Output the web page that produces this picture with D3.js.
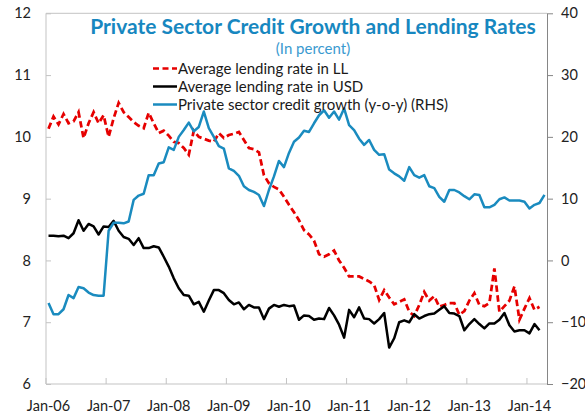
<!DOCTYPE html>
<html lang="en">
	<head>
		<meta charset="utf-8">
		<title>Private Sector Credit Growth and Lending Rates</title>
		<script type="text/javascript" src="https://cdn.jsdelivr.net/npm/d3@7"></script>
		<style type="text/css">
			body { margin: 0; background: #fff; }
			text { font-family: Lato, "Open Sans", sans-serif; }
		</style>
	</head>
	<body>
		<script type="text/javascript">
			//Monthly data, Jan-06 to Apr-14
			var tickLabels = ["Jan-06", "Jan-07", "Jan-08", "Jan-09", "Jan-10", "Jan-11", "Jan-12", "Jan-13", "Jan-14"];

			//Average lending rate in LL (left axis)
			var rateLL = [
				10.13, 10.33, 10.20, 10.37, 10.22, 10.25, 10.40, 9.98, 10.22, 10.40,
				10.22, 10.35, 10.00, 10.30, 10.55, 10.40, 10.32, 10.24, 10.18, 10.14,
				10.39, 10.22, 10.06, 10.10, 10.02, 9.92, 9.90, 9.82, 9.71, 10.10,
				10.00, 9.97, 9.94, 9.92, 10.06, 9.98, 10.03, 10.05, 10.08, 9.95,
				9.82, 9.80, 9.75, 9.38, 9.25, 9.19, 9.15, 9.03, 8.90, 8.78,
				8.65, 8.49, 8.42, 8.32, 8.10, 8.06, 8.10, 8.16, 8.00, 7.88,
				7.74, 7.74, 7.74, 7.70, 7.66, 7.60, 7.36, 7.52, 7.40, 7.29,
				7.33, 7.37, 7.17, 7.10, 7.28, 7.49, 7.35, 7.42, 7.25, 7.28,
				7.31, 7.31, 7.12, 7.18, 7.35, 7.47, 7.28, 7.26, 7.31, 7.87,
				7.17, 7.26, 7.35, 7.58, 7.04, 7.22, 7.39, 7.20, 7.25
			];

			//Average lending rate in USD (left axis)
			var rateUSD = [
				8.40, 8.40, 8.39, 8.40, 8.36, 8.44, 8.65, 8.48, 8.59, 8.55,
				8.42, 8.55, 8.54, 8.64, 8.48, 8.38, 8.35, 8.25, 8.36, 8.20,
				8.20, 8.23, 8.21, 8.06, 7.90, 7.71, 7.55, 7.44, 7.43, 7.29,
				7.33, 7.17, 7.35, 7.52, 7.52, 7.47, 7.36, 7.29, 7.32, 7.21,
				7.28, 7.24, 7.24, 7.05, 7.22, 7.28, 7.25, 7.28, 7.26, 7.27,
				7.04, 7.11, 7.10, 7.04, 7.06, 7.05, 7.23, 7.11, 6.96, 6.75,
				7.20, 7.08, 7.24, 7.06, 7.05, 6.98, 7.05, 7.15, 6.59, 6.74,
				7.00, 7.03, 7.00, 7.13, 7.06, 7.10, 7.13, 7.14, 7.20, 7.26,
				7.15, 7.14, 7.10, 6.87, 6.97, 7.05, 6.97, 6.90, 6.98, 6.98,
				7.04, 7.15, 6.95, 6.85, 6.87, 6.87, 6.82, 6.97, 6.87
			];

			//Private sector credit growth, y-o-y (right axis)
			var creditGrowth = [
				-6.9, -8.7, -8.7, -7.9, -5.6, -6.1, -4.3, -4.5, -5.2, -5.6,
				-5.7, -5.7, 4.8, 6.1, 6.1, 6.0, 6.3, 9.8, 10.5, 10.8,
				13.8, 13.8, 15.7, 15.9, 18.3, 17.9, 20.0, 21.1, 22.3, 20.9,
				21.6, 24.1, 21.4, 20.0, 18.5, 18.1, 14.9, 14.5, 13.7, 12.0,
				11.4, 11.1, 10.6, 8.8, 11.4, 13.6, 16.1, 15.1, 17.4, 19.2,
				19.9, 21.0, 20.8, 22.2, 23.5, 24.3, 23.1, 24.1, 22.8, 24.6,
				21.9, 21.1, 19.7, 18.7, 19.5, 17.9, 17.1, 17.2, 14.7, 14.1,
				13.6, 12.9, 15.1, 13.8, 13.4, 13.8, 12.0, 11.7, 10.3, 9.5,
				11.4, 11.4, 11.0, 10.4, 9.9, 10.7, 10.6, 8.6, 8.6, 9.0,
				9.9, 10.2, 9.7, 9.7, 9.7, 9.5, 8.4, 9.0, 9.3, 10.6
			];

			//Width and height
			var w = 585;
			var h = 414;
			var plotLeft = 46, plotRight = 547, plotTop = 13.3, plotBottom = 384;

			//Categories: one per month
			var fmt = d3.timeFormat("%b-%y");
			var months = d3.timeMonth.range(new Date(2006, 0, 1), new Date(2014, 4, 1)).map(fmt);

			//Scales
			var xScale = d3.scaleBand()
							.domain(months)
							.range([plotLeft, plotRight]);
			var yLeft = d3.scaleLinear()
							.domain([6, 12])
							.range([plotBottom, plotTop]);
			var yRight = d3.scaleLinear()
							.domain([-20, 40])
							.range([plotBottom, plotTop]);

			var svg = d3.select("body")
						.append("svg")
						.attr("width", w)
						.attr("height", h);

			//Plot border (light grey)
			svg.append("path")
				.attr("d", "M" + plotRight + "," + plotTop + "H" + plotLeft + "V" + plotBottom + "H" + plotRight)
				.attr("fill", "none")
				.attr("stroke", "#c3c3c3")
				.attr("stroke-width", 1);

			//Left axis, ticks pointing inward
			var yAxisL = svg.append("g")
				.attr("transform", "translate(" + plotLeft + ",0)")
				.call(d3.axisLeft(yLeft).ticks(6).tickSize(-5).tickPadding(15));
			yAxisL.select(".domain").remove();
			yAxisL.selectAll("line").attr("stroke", "#c3c3c3");

			//Right axis
			var yAxisR = svg.append("g")
				.attr("transform", "translate(" + plotRight + ",0)")
				.call(d3.axisRight(yRight).ticks(6).tickSize(6).tickPadding(8).tickSizeOuter(0));
			yAxisR.selectAll("path, line").attr("stroke", "#868686");

			//Bottom axis: labels centred on January, ticks on category edges
			var xAxis = svg.append("g")
				.attr("transform", "translate(0," + plotBottom + ")")
				.call(d3.axisBottom(xScale)
					.tickValues(tickLabels)
					.tickSize(-6)
					.tickPadding(17));
			xAxis.select(".domain").remove();
			xAxis.selectAll("line")
				.attr("x1", -xScale.bandwidth() / 2)
				.attr("x2", -xScale.bandwidth() / 2)
				.attr("stroke", "#c3c3c3");

			svg.selectAll(".tick text")
				.attr("font-family", "Lato, sans-serif")
				.attr("font-size", "14.5px")
				.attr("fill", "#222");

			//Line generators
			var px = function(d, i) { return xScale(months[i]) + xScale.bandwidth() / 2; };
			var lineL = d3.line().x(px).y(function(d) { return yLeft(d); });
			var lineR = d3.line().x(px).y(function(d) { return yRight(d); });

			svg.append("path")
				.datum(rateLL)
				.attr("d", lineL)
				.attr("fill", "none")
				.attr("stroke", "#e60000")
				.attr("stroke-width", 2.75)
				.attr("stroke-dasharray", "6.5,3.5");

			svg.append("path")
				.datum(rateUSD)
				.attr("d", lineL)
				.attr("fill", "none")
				.attr("stroke", "#000")
				.attr("stroke-width", 2.5)
				.attr("stroke-linejoin", "round");

			svg.append("path")
				.datum(creditGrowth)
				.attr("d", lineR)
				.attr("fill", "none")
				.attr("stroke", "#1a8bbf")
				.attr("stroke-width", 2.5)
				.attr("stroke-linejoin", "round");

			//Title
			svg.append("text")
				.attr("x", 313)
				.attr("y", 34)
				.attr("text-anchor", "middle")
				.attr("font-weight", "bold")
				.attr("font-size", "21px")
				.attr("fill", "#1787c0")
				.text("Private Sector Credit Growth and Lending Rates");

			svg.append("text")
				.attr("x", 313)
				.attr("y", 54)
				.attr("text-anchor", "middle")
				.attr("font-size", "15px")
				.attr("fill", "#3a9ad0")
				.text("(In percent)");

			//Legend
			var legendItems = [
				{ name: "Average lending rate in LL", color: "#e60000", dash: "6,3.5" },
				{ name: "Average lending rate in USD", color: "#000", dash: null },
				{ name: "Private sector credit growth (y-o-y) (RHS)", color: "#1a8bbf", dash: null }
			];
			var legend = svg.append("g")
				.selectAll("g")
				.data(legendItems)
				.enter()
				.append("g")
				.attr("transform", function(d, i) { return "translate(153," + (68.5 + i * 18) + ")"; });
			legend.append("line")
				.attr("x1", 0)
				.attr("x2", 24)
				.attr("stroke", function(d) { return d.color; })
				.attr("stroke-width", 2.5)
				.attr("stroke-dasharray", function(d) { return d.dash; });
			legend.append("text")
				.attr("x", 25)
				.attr("y", 5.5)
				.attr("font-size", "15px")
				.attr("fill", "#1a1a1a")
				.text(function(d) { return d.name; });
		</script>
	</body>
</html>
